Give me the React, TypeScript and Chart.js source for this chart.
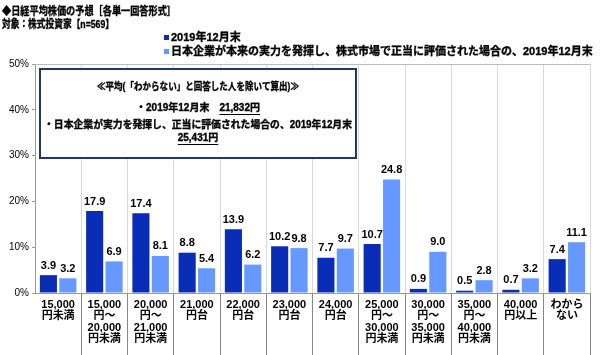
import React, { useEffect, useRef } from "react";
import { Chart, registerables } from "chart.js";

Chart.register(...registerables);

const categories: string[][] = [
  ["15,000", "円未満"],
  ["15,000", "円～", "20,000", "円未満"],
  ["20,000", "円～", "21,000", "円未満"],
  ["21,000", "円台"],
  ["22,000", "円台"],
  ["23,000", "円台"],
  ["24,000", "円台"],
  ["25,000", "円～", "30,000", "円未満"],
  ["30,000", "円～", "35,000", "円未満"],
  ["35,000", "円～", "40,000", "円未満"],
  ["40,000", "円以上"],
  ["わから", "ない"],
];

const seriesDec2019: number[] = [3.9, 17.9, 17.4, 8.8, 13.9, 10.2, 7.7, 10.7, 0.9, 0.5, 0.7, 7.4];
const seriesFair2019: number[] = [3.2, 6.9, 8.1, 5.4, 6.2, 9.8, 9.7, 24.8, 9.0, 2.8, 3.2, 11.1];

const seriesNames: string[] = [
  "2019年12月末",
  "日本企業が本来の実力を発揮し、株式市場で正当に評価された場合の、2019年12月末",
];

const titleLines: string[] = ["◆日経平均株価の予想［各単一回答形式］", "対象：株式投資家【n=569】"];

const boxLines: string[] = [
  "≪平均(「わからない」と回答した人を除いて算出)≫",
  "・2019年12月末　",
  "21,832円",
  "・日本企業が実力を発揮し、正当に評価された場合の、2019年12月末",
  "25,431円",
];

const yTicks: number[] = [0, 10, 20, 30, 40, 50];

const DARK = "#0a2db8";
const LIGHT = "#6699ff";
const FAMILY = "'Liberation Sans', 'Noto Sans CJK JP', sans-serif";

function boldText(ctx: any, text: string, x: number, y: number, maxW?: number) {
  ctx.lineWidth = 0.35;
  ctx.strokeStyle = ctx.fillStyle;
  if (maxW !== undefined) {
    ctx.fillText(text, x, y, maxW);
    ctx.strokeText(text, x, y, maxW);
  } else {
    ctx.fillText(text, x, y);
    ctx.strokeText(text, x, y);
  }
}

const overlayPlugin = {
  id: "overlay",
  afterDatasetsDraw(chart: any) {
    const ctx = chart.ctx;
    ctx.save();
    ctx.fillStyle = "#000";
    ctx.textAlign = "center";
    ctx.textBaseline = "bottom";
    ctx.font = `bold 11px ${FAMILY}`;
    chart.data.datasets.forEach((ds: any, di: number) => {
      const meta = chart.getDatasetMeta(di);
      meta.data.forEach((el: any, i: number) => {
        const v = ds.data[i] as number;
        ctx.fillText(v.toFixed(1), el.x, el.y - 4);
      });
    });
    ctx.restore();
  },
  afterDraw(chart: any) {
    const ctx = chart.ctx;
    const ca = chart.chartArea;
    ctx.save();
    // plot top border
    ctx.strokeStyle = "#bbbbbb";
    ctx.lineWidth = 1;
    ctx.beginPath();
    ctx.moveTo(ca.left, Math.round(ca.top) + 0.5);
    ctx.lineTo(ca.right, Math.round(ca.top) + 0.5);
    ctx.stroke();

    // header
    ctx.fillStyle = "#000";
    ctx.textAlign = "left";
    ctx.textBaseline = "middle";
    ctx.font = `bold 11px ${FAMILY}`;
    boldText(ctx, titleLines[0], 2, 12, 174);
    boldText(ctx, titleLines[1], 2, 25, 112);

    // legend
    ctx.font = `bold 11px ${FAMILY}`;
    const legendX = 164;
    const legendYs = [38, 52];
    const colors = [DARK, LIGHT];
    const maxW = [72, 424];
    seriesNames.forEach((name, i) => {
      ctx.fillStyle = colors[i];
      ctx.fillRect(legendX, legendYs[i] - 3, 5, 5);
      ctx.fillStyle = "#000";
      boldText(ctx, name, legendX + 7, legendYs[i], maxW[i]);
    });

    // annotation box
    const bx = 40, by = 69, bw = 316, bh = 89;
    ctx.fillStyle = "#fff";
    ctx.fillRect(bx, by, bw, bh);
    ctx.strokeStyle = "#1f3864";
    ctx.lineWidth = 2;
    ctx.strokeRect(bx, by, bw, bh);

    const cx = bx + bw / 2;
    ctx.fillStyle = "#000";
    ctx.font = `bold 10px ${FAMILY}`;
    ctx.textAlign = "center";
    boldText(ctx, boxLines[0], cx, 87, 202);

    // line 2
    ctx.textAlign = "left";
    const w1 = ctx.measureText(boxLines[1]).width;
    const w2 = ctx.measureText(boxLines[2]).width;
    const sx = cx - (w1 + w2) / 2;
    boldText(ctx, boxLines[1], sx, 108);
    boldText(ctx, boxLines[2], sx + w1, 108);
    ctx.strokeStyle = "#000";
    ctx.lineWidth = 1;
    ctx.beginPath();
    ctx.moveTo(sx + w1, 114.5);
    ctx.lineTo(sx + w1 + w2, 114.5);
    ctx.stroke();

    // line 3
    ctx.textAlign = "center";
    boldText(ctx, boxLines[3], cx, 125, 308);

    // line 4
    const w4 = ctx.measureText(boxLines[4]).width;
    boldText(ctx, boxLines[4], cx, 138);
    ctx.strokeStyle = "#000";
    ctx.lineWidth = 1;
    ctx.beginPath();
    ctx.moveTo(cx - w4 / 2, 144.5);
    ctx.lineTo(cx + w4 / 2, 144.5);
    ctx.stroke();

    ctx.restore();
  },
};

export default function App() {
  const canvasRef = useRef<HTMLCanvasElement | null>(null);

  useEffect(() => {
    document.body.style.margin = "0";
    const canvas = canvasRef.current;
    if (!canvas) return;
    const lastIndex = categories.length;
    const chart = new Chart(canvas, {
      type: "bar",
      data: {
        labels: categories,
        datasets: [
          {
            label: seriesNames[0],
            data: seriesDec2019,
            backgroundColor: DARK,
            categoryPercentage: 0.84,
            barPercentage: 0.88,
          },
          {
            label: seriesNames[1],
            data: seriesFair2019,
            backgroundColor: LIGHT,
            categoryPercentage: 0.84,
            barPercentage: 0.88,
          },
        ],
      },
      options: {
        animation: false,
        responsive: false,
        maintainAspectRatio: false,
        layout: { padding: { top: 64, right: 10, left: 0, bottom: 0 } },
        plugins: {
          legend: { display: false },
          title: { display: false },
          tooltip: { enabled: false },
        },
        scales: {
          x: {
            grid: {
              offset: true,
              color: "#d9d9d9",
              tickColor: (c: any) =>
                c.index === 0 || c.index === lastIndex ? "rgba(0,0,0,0)" : "#888888",
              tickLength: 62,
            },
            border: { color: "#999999" },
            ticks: {
              color: "#000",
              font: { family: FAMILY, size: 11, weight: "bold", lineHeight: 1.05 },
              padding: -56,
              maxRotation: 0,
              autoSkip: false,
            },
            afterFit: (s: any) => {
              s.height = 62;
            },
          },
          y: {
            min: yTicks[0],
            max: yTicks[yTicks.length - 1],
            afterBuildTicks: (s: any) => {
              s.ticks = yTicks.map((v) => ({ value: v }));
            },
            ticks: {
              color: "#000",
              font: { family: FAMILY, size: 10 },
              padding: 3,
              callback: (v: any) => `${v}%`,
            },
            grid: { drawOnChartArea: false, tickLength: 3, color: "#999999" },
            border: { color: "#999999" },
            afterFit: (s: any) => {
              s.width = 35;
            },
          },
        },
      },
      plugins: [overlayPlugin],
    });
    return () => chart.destroy();
  }, []);

  return (
    <div style={{ width: 600, height: 355, background: "#fff" }}>
      <canvas ref={canvasRef} width={600} height={355} />
    </div>
  );
}
